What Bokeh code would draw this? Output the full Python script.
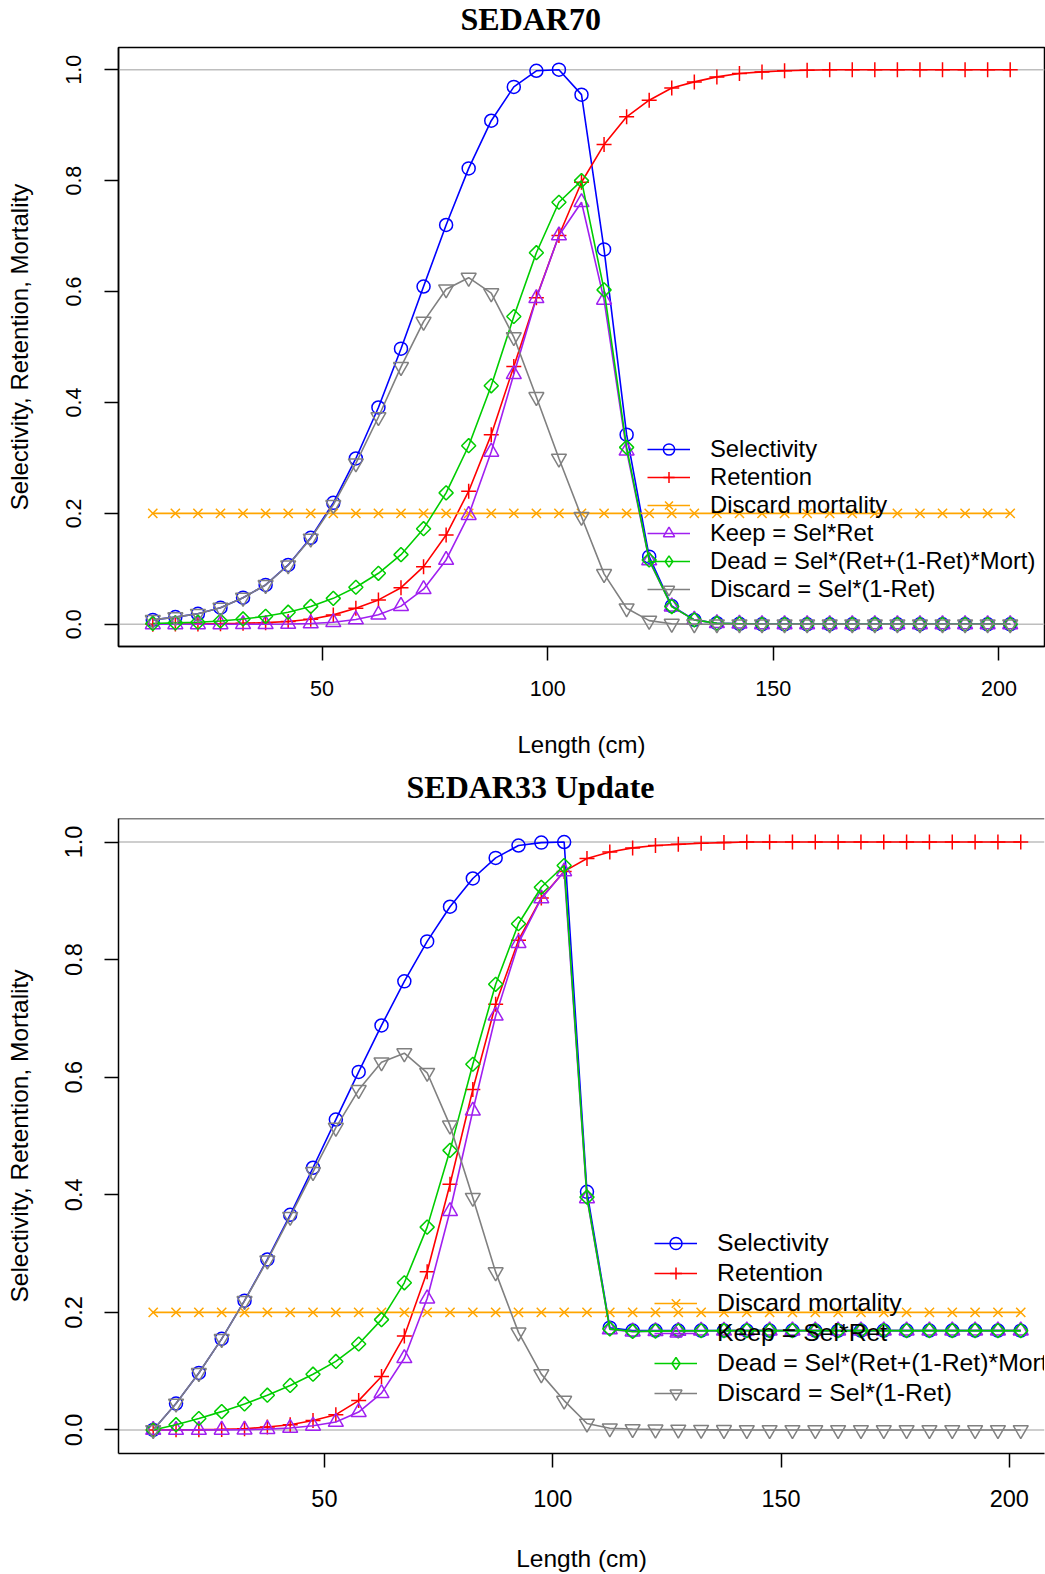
from bokeh.plotting import figure
from bokeh.layouts import column
from bokeh.models import (Span, Legend, LegendItem, FixedTicker, NumeralTickFormatter,
                          Range1d, Title)
from bokeh.embed import file_html
from bokeh.resources import INLINE

# ---------------- data ----------------
length_cm = [12.5, 17.5, 22.5, 27.5, 32.5, 37.5, 42.5, 47.5, 52.5, 57.5,
             62.5, 67.5, 72.5, 77.5, 82.5, 87.5, 92.5, 97.5, 102.5, 107.5,
             112.5, 117.5, 122.5, 127.5, 132.5, 137.5, 142.5, 147.5, 152.5, 157.5,
             162.5, 167.5, 172.5, 177.5, 182.5, 187.5, 192.5, 197.5, 202.5]

x_ticks = [50, 100, 150, 200]
y_ticks = [0.0, 0.2, 0.4, 0.6, 0.8, 1.0]

series_labels = ["Selectivity", "Retention", "Discard mortality", "Keep = Sel*Ret",
                 "Dead = Sel*(Ret+(1-Ret)*Mort)", "Discard = Sel*(1-Ret)"]

# SEDAR70
sel70 = [0.008, 0.013, 0.019, 0.030, 0.048, 0.071, 0.107, 0.156, 0.219, 0.299,
         0.391, 0.497, 0.609, 0.720, 0.822, 0.908, 0.969, 0.998, 1.000, 0.955,
         0.676, 0.342, 0.122, 0.033, 0.008, 0.002, 0.001, 0.0, 0.0, 0.0,
         0.0, 0.0, 0.0, 0.0, 0.0, 0.0, 0.0, 0.0, 0.0]
ret70 = [0.0002, 0.0004, 0.0007, 0.0012, 0.002, 0.003, 0.005, 0.009, 0.017, 0.029,
         0.044, 0.066, 0.104, 0.161, 0.240, 0.342, 0.465, 0.589, 0.701, 0.797,
         0.865, 0.915, 0.945, 0.967, 0.978, 0.987, 0.993, 0.996, 0.998, 0.999,
         1.0, 1.0, 1.0, 1.0, 1.0, 1.0, 1.0, 1.0, 1.0]
mort70 = [0.2] * 39
keep70 = [0.0, 0.0, 0.0, 0.0, 0.0001, 0.0002, 0.0005, 0.0014, 0.0037, 0.0087,
          0.0172, 0.0328, 0.0633, 0.116, 0.197, 0.311, 0.451, 0.588, 0.701, 0.761,
          0.585, 0.313, 0.115, 0.032, 0.008, 0.002, 0.001, 0.0, 0.0, 0.0,
          0.0, 0.0, 0.0, 0.0, 0.0, 0.0, 0.0, 0.0, 0.0]
dead70 = [0.0016, 0.0026, 0.0038, 0.006, 0.0097, 0.0144, 0.0218, 0.0323, 0.0468, 0.0668,
          0.092, 0.1256, 0.1724, 0.237, 0.322, 0.430, 0.555, 0.670, 0.761, 0.800,
          0.603, 0.319, 0.116, 0.032, 0.008, 0.002, 0.001, 0.0, 0.0, 0.0,
          0.0, 0.0, 0.0, 0.0, 0.0, 0.0, 0.0, 0.0, 0.0]
disc70 = [0.008, 0.013, 0.019, 0.030, 0.048, 0.071, 0.1065, 0.1546, 0.2153, 0.2903,
          0.3738, 0.4642, 0.5457, 0.604, 0.625, 0.597, 0.518, 0.410, 0.299, 0.194,
          0.091, 0.029, 0.0067, 0.0011, 0.0002, 0.0, 0.0, 0.0, 0.0, 0.0,
          0.0, 0.0, 0.0, 0.0, 0.0, 0.0, 0.0, 0.0, 0.0]

# SEDAR33 Update
sel33 = [0.0, 0.045, 0.097, 0.155, 0.220, 0.290, 0.366, 0.446, 0.528, 0.609,
         0.688, 0.763, 0.831, 0.890, 0.938, 0.973, 0.994, 0.999, 1.000, 0.405,
         0.174, 0.169, 0.169, 0.169, 0.169, 0.169, 0.169, 0.169, 0.169, 0.169,
         0.169, 0.169, 0.169, 0.169, 0.169, 0.169, 0.169, 0.169, 0.169]
ret33 = [0.0, 0.0003, 0.0006, 0.001, 0.002, 0.005, 0.009, 0.016, 0.026, 0.050,
         0.091, 0.160, 0.269, 0.418, 0.579, 0.724, 0.833, 0.905, 0.950, 0.972,
         0.983, 0.990, 0.994, 0.996, 0.998, 0.999, 1.0, 1.0, 1.0, 1.0,
         1.0, 1.0, 1.0, 1.0, 1.0, 1.0, 1.0, 1.0, 1.0]
mort33 = [0.2] * 39
keep33 = [0.0, 0.0, 0.0001, 0.0002, 0.0004, 0.0015, 0.0033, 0.0071, 0.0137, 0.0305,
          0.0626, 0.1221, 0.2235, 0.372, 0.543, 0.7045, 0.828, 0.904, 0.950, 0.394,
          0.171, 0.1673, 0.168, 0.1683, 0.1687, 0.1688, 0.169, 0.169, 0.169, 0.169,
          0.169, 0.169, 0.169, 0.169, 0.169, 0.169, 0.169, 0.169, 0.169]
dead33 = [0.0, 0.009, 0.0195, 0.0312, 0.0443, 0.0592, 0.0758, 0.0949, 0.1166, 0.1462,
          0.1877, 0.2503, 0.345, 0.4756, 0.622, 0.758, 0.861, 0.923, 0.960, 0.396,
          0.172, 0.1676, 0.1682, 0.1685, 0.1688, 0.1689, 0.169, 0.169, 0.169, 0.169,
          0.169, 0.169, 0.169, 0.169, 0.169, 0.169, 0.169, 0.169, 0.169]
disc33 = [0.0, 0.045, 0.097, 0.155, 0.2196, 0.2885, 0.3627, 0.4389, 0.5143, 0.5785,
          0.6254, 0.6409, 0.6075, 0.518, 0.395, 0.2685, 0.166, 0.095, 0.050, 0.011,
          0.003, 0.0017, 0.001, 0.0007, 0.0003, 0.0002, 0.0, 0.0, 0.0, 0.0,
          0.0, 0.0, 0.0, 0.0, 0.0, 0.0, 0.0, 0.0, 0.0]

# ---------------- styles ----------------
STYLES = [
    dict(color="#0000FF", marker="circle", size=13, angle=0.0, legend_marker=None),
    dict(color="#FF0000", marker="cross", size=15, angle=0.0, legend_marker=None),
    dict(color="#FFA500", marker="x", size=13, angle=0.0, legend_marker=None),
    dict(color="#A020F0", marker="triangle", size=15, angle=0.0, legend_marker=None),
    dict(color="#00CD00", marker="square", size=10, angle=0.7854, legend_marker="diamond"),
    dict(color="#808080", marker="inverted_triangle", size=15, angle=0.0, legend_marker=None),
]
SANS = "Liberation Sans"
SERIF = "Liberation Serif"


def make_panel(title, series, height, border_top, border_bottom, border_left,
               border_right, x_end, tick_fs, label_fs, legend_fs, legend_loc, row_h,
               title_offset, spacer_standoff, tick_standoff_x, label_standoff_x,
               tick_standoff_y, label_standoff_y, show_right):
    p = figure(width=1045, height=height, output_backend="svg",
               toolbar_location=None,
               x_range=Range1d(4.9, x_end), y_range=Range1d(-0.04, 1.04),
               min_border_top=border_top, min_border_bottom=border_bottom,
               min_border_left=border_left, min_border_right=border_right)
    p.title.text = ""
    # thin spacer next to the frame, then the real title above it
    p.add_layout(Title(text=" ", text_font_size="1px", standoff=spacer_standoff,
                       text_color="white"), "above")
    p.add_layout(Title(text=title, align="left", offset=title_offset,
                       standoff=0, vertical_align="top",
                       text_font=SERIF, text_font_style="bold",
                       text_font_size="32px", text_color="black"), "above")
    p.grid.visible = False
    p.background_fill_color = "white"
    if show_right:
        p.outline_line_color = "black"
        p.outline_line_width = 1.5
        p.outline_line_alpha = 1.0
    else:
        p.outline_line_color = None
        p.add_layout(Span(location=1.04, dimension="width", line_color="black",
                          line_width=1.5, level="overlay"))

    for h in (0.0, 1.0):
        p.add_layout(Span(location=h, dimension="width", line_color="#BEBEBE",
                          line_width=1.5, level="underlay"))

    items = []
    for lab, vals, st in zip(series_labels, series, STYLES):
        ln = p.line(length_cm, vals, line_color=st["color"], line_width=1.6)
        sc = p.scatter(length_cm, vals, marker=st["marker"], size=st["size"],
                       angle=st["angle"], line_color=st["color"], fill_color=None,
                       line_width=1.5)
        rends = [ln, sc]
        if st["legend_marker"] is not None:
            lg = p.scatter(length_cm, vals, marker=st["legend_marker"], size=st["size"],
                           line_color=st["color"], fill_color=None, line_width=1.5,
                           visible=False)
            rends = [ln, lg]
        items.append(LegendItem(label=lab, renderers=rends))

    leg = Legend(items=items, location=legend_loc, orientation="vertical",
                 border_line_color=None, background_fill_alpha=0.0,
                 inactive_fill_alpha=0.0,
                 padding=0, margin=0, glyph_width=43, glyph_height=row_h,
                 label_height=row_h, spacing=0, label_standoff=20,
                 label_text_font=SANS, label_text_font_size=legend_fs,
                 label_text_color="black")
    p.add_layout(leg)

    for ax in (p.xaxis[0], p.yaxis[0]):
        ax.axis_line_color = "black"
        ax.axis_line_width = 1.5
        ax.major_tick_line_color = "black"
        ax.major_tick_line_width = 1.5
        ax.major_tick_in = 0
        ax.major_tick_out = 14
        ax.minor_tick_line_color = None
        ax.major_label_text_font = SANS
        ax.major_label_text_font_size = tick_fs
        ax.major_label_text_color = "black"
        ax.axis_label_text_font = SANS
        ax.axis_label_text_font_size = label_fs
        ax.axis_label_text_font_style = "normal"
        ax.axis_label_text_color = "black"

    p.xaxis[0].ticker = FixedTicker(ticks=x_ticks)
    p.xaxis[0].axis_label = "Length (cm)"
    p.xaxis[0].major_label_standoff = tick_standoff_x
    p.xaxis[0].axis_label_standoff = label_standoff_x

    p.yaxis[0].ticker = FixedTicker(ticks=y_ticks)
    p.yaxis[0].formatter = NumeralTickFormatter(format="0.0")
    p.yaxis[0].major_label_orientation = "vertical"
    p.yaxis[0].axis_label = "Selectivity, Retention, Mortality"
    p.yaxis[0].major_label_standoff = tick_standoff_y
    p.yaxis[0].axis_label_standoff = label_standoff_y
    return p


p1 = make_panel("SEDAR70", [sel70, ret70, mort70, keep70, dead70, disc70],
                height=766, border_top=47, border_bottom=120, border_left=117,
                border_right=1, x_end=210.1, tick_fs="21.5px", label_fs="24px",
                legend_fs="23.8px", legend_loc=(529, 43), row_h=28,
                title_offset=342, spacer_standoff=6,
                tick_standoff_x=20, label_standoff_x=32,
                tick_standoff_y=23, label_standoff_y=31, show_right=True)
p2 = make_panel("SEDAR33 Update", [sel33, ret33, mort33, keep33, dead33, disc33],
                height=808, border_top=52, border_bottom=121, border_left=118,
                border_right=0, x_end=207.7, tick_fs="23.5px", label_fs="24.5px",
                legend_fs="24.8px", legend_loc=(536, 45), row_h=30,
                title_offset=288, spacer_standoff=9,
                tick_standoff_x=22, label_standoff_x=35,
                tick_standoff_y=22, label_standoff_y=30, show_right=False)

layout = column(p1, p2, spacing=0)
open("out.html", "w").write(file_html(layout, INLINE))
